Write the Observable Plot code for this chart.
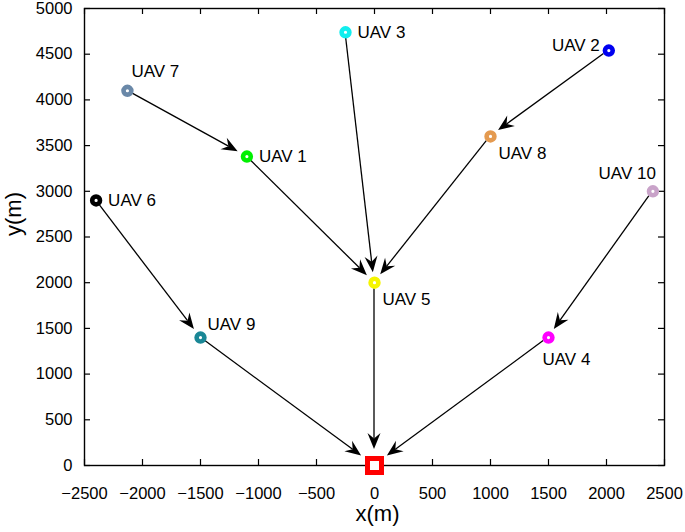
<!DOCTYPE html>
<html><head><meta charset="utf-8">
<script src="https://cdn.jsdelivr.net/npm/d3@7"></script>
<script src="https://cdn.jsdelivr.net/npm/@observablehq/plot@0.6"></script>
<style>body{margin:0;background:#fff}</style>
</head><body><div id="chart"></div>
<script>
// UAV data
const uavNames = ["UAV 1","UAV 2","UAV 3","UAV 4","UAV 5","UAV 6","UAV 7","UAV 8","UAV 9","UAV 10"];
const uavX = [-1100, 2020, -250, 1500, 0, -2400, -2130, 1000, -1500, 2400];
const uavY = [3380, 4540, 4740, 1400, 2000, 2900, 4100, 3600, 1400, 3000];
const uavColors = ["#00f000","#0000f0","#11eeee","#ff00ff","#f5f500","#000000","#6a88a8","#e49a50","#1a8796","#c9a3c9"];
const labelPlace = ["e","w","e","s","se","e","n","se","ne","nw"];
// base station
const baseName = "BS";
const baseX = [0];
const baseY = [0];
// relay links (from -> to)
const edgeFrom = ["UAV 7","UAV 1","UAV 3","UAV 8","UAV 2","UAV 6","UAV 9","UAV 5","UAV 10","UAV 4"];
const edgeTo   = ["UAV 1","UAV 5","UAV 5","UAV 5","UAV 8","UAV 9","BS","BS","UAV 4","BS"];
// axis ticks
const xTicks = [-2500,-2000,-1500,-1000,-500,0,500,1000,1500,2000,2500];
const yTicks = [0,500,1000,1500,2000,2500,3000,3500,4000,4500,5000];

const uavs = uavNames.map((name, i) => ({name, x: uavX[i], y: uavY[i], color: uavColors[i], place: labelPlace[i]}));
const pos = new Map(uavs.map(d => [d.name, d]));
pos.set(baseName, {name: baseName, x: baseX[0], y: baseY[0]});
const edges = edgeFrom.map((f, i) => ({from: pos.get(f), to: pos.get(edgeTo[i]), toBase: edgeTo[i] === baseName}));

const places = {
  e:  {dx: 12, dy: 0,   textAnchor: "start"},
  w:  {dx: -9, dy: -5,  textAnchor: "end"},
  s:  {dx: -6, dy: 22,  textAnchor: "start"},
  se: {dx: 8,  dy: 17,  textAnchor: "start"},
  ne: {dx: 7,  dy: -13, textAnchor: "start"},
  n:  {dx: 4,  dy: -19, textAnchor: "start"},
  nw: {dx: 3,  dy: -18, textAnchor: "end"}
};

const W = 685, H = 532, mL = 84, mR = 21, mT = 8, mB = 67;
const fw = W - mL - mR, fh = H - mT - mB, tk = 6;

function arrowMark(index, scales) {
  const g = d3.create("svg:g");
  for (const e of edges) {
    const x1 = scales.x(e.from.x), y1 = scales.y(e.from.y);
    const x2 = scales.x(e.to.x), y2 = scales.y(e.to.y);
    const dx = x2 - x1, dy = y2 - y1, L = Math.hypot(dx, dy);
    const ux = dx / L, uy = dy / L, px = -uy, py = ux;
    const ins = e.toBase ? 16 : 10;
    const sx = x1 + ux * 6, sy = y1 + uy * 6;
    const tx = x2 - ux * ins, ty = y2 - uy * ins;
    const hl = 16, hw = 6.5, notch = 10.5;
    const bx = tx - ux * hl, by = ty - uy * hl;
    const nx = tx - ux * notch, ny = ty - uy * notch;
    g.append("line").attr("x1", sx).attr("y1", sy).attr("x2", nx).attr("y2", ny)
      .attr("stroke", "black").attr("stroke-width", 1.3);
    g.append("path")
      .attr("d", `M${tx},${ty}L${bx + px * hw},${by + py * hw}L${nx},${ny}L${bx - px * hw},${by - py * hw}Z`)
      .attr("fill", "black");
  }
  return g.node();
}

const labelMarks = Object.entries(places).map(([k, p]) =>
  Plot.text(uavs.filter(d => d.place === k), {x: "x", y: "y", text: "name", dx: p.dx, dy: p.dy, textAnchor: p.textAnchor, fontSize: 17, fill: "black"})
);

const chart = Plot.plot({
  width: W, height: H, marginLeft: mL, marginRight: mR, marginTop: mT, marginBottom: mB,
  x: {domain: [-2500, 2500]},
  y: {domain: [0, 5000]},
  color: {type: "identity"},
  style: {fontFamily: "'Liberation Sans', Arial, sans-serif", background: "white", color: "black"},
  marks: [
    Plot.axisX(xTicks, {tickSize: 0, tickPadding: 22, label: null, tickFormat: d3.format("d"), fontSize: 16.5}),
    Plot.axisY(yTicks, {tickSize: 0, tickPadding: 12, label: null, tickFormat: d3.format("d"), fontSize: 16.5}),
    Plot.frame({stroke: "black", strokeWidth: 1.4}),
    Plot.tickX(xTicks, {x: d => d, insetTop: fh - tk, stroke: "black", strokeWidth: 1.2}),
    Plot.tickX(xTicks, {x: d => d, insetBottom: fh - tk, stroke: "black", strokeWidth: 1.2}),
    Plot.tickY(yTicks, {y: d => d, insetRight: fw - tk, stroke: "black", strokeWidth: 1.2}),
    Plot.tickY(yTicks, {y: d => d, insetLeft: fw - tk, stroke: "black", strokeWidth: 1.2}),
    arrowMark,
    Plot.dot(uavs, {x: "x", y: "y", r: 3.9, stroke: "color", strokeWidth: 4.6, fill: "white"}),
    Plot.dot([pos.get(baseName)], {x: "x", y: "y", symbol: "square", r: 7.9, stroke: "#ff0000", strokeWidth: 5, fill: "white"}),
    ...labelMarks,
    Plot.text(["x(m)"], {frameAnchor: "bottom", dx: 3, dy: 55, fontSize: 22, fill: "black"}),
    Plot.text(["y(m)"], {frameAnchor: "left", dx: -71, dy: -1, rotate: -90, fontSize: 22, fill: "black"})
  ]
});
document.getElementById("chart").appendChild(chart);
</script></body></html>
